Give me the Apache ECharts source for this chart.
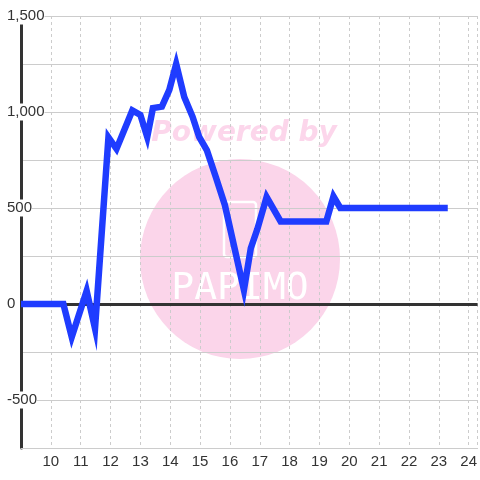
<!DOCTYPE html>
<html><head><meta charset="utf-8">
<script src="https://cdn.jsdelivr.net/npm/echarts@6/dist/echarts.min.js"></script>
<style>html,body{margin:0;padding:0;background:#fff}#c{width:480px;height:480px}</style>
</head><body><div id="c"></div>
<script>
// data
const xValues = [9.0, 10.42, 10.7, 11.2, 11.48, 11.93, 12.2, 12.73, 13.0, 13.23, 13.42, 13.72, 13.97, 14.2, 14.47, 14.75, 14.97, 15.23, 15.53, 15.83, 16.47, 16.7, 16.92, 17.23, 17.7, 19.23, 19.47, 19.7, 23.3];
const yValues = [0, 0, -172, 68, -128, 868, 808, 1008, 985, 870, 1020, 1028, 1115, 1250, 1078, 975, 870, 800, 660, 516, 73, 290, 390, 557, 430, 430, 560, 500, 500];
const yLabelValues = [-500, 0, 500, 1000, 1500];
const xMin = 9, xMax = 24.3, yMin = -750, yMax = 1500;

const seriesData = xValues.map((x, i) => [x, yValues[i]]);
const chart = echarts.init(document.getElementById('c'));
const FONT = 'Liberation Sans, Arial, sans-serif';
chart.setOption({
  animation: false,
  backgroundColor: '#fff',
  grid: { left: 21, right: 0, top: 16, bottom: 32, containLabel: false },
  graphic: [
    { type: 'circle', z: -5, silent: true, shape: { cx: 240, cy: 259, r: 100 }, style: { fill: '#fbd5ea' } },
    { type: 'text', z: -5, silent: true, x: 244, y: 134, style: { text: 'Powered by', fill: '#fcd6eb', font: 'italic bold 28px "DejaVu Sans"', align: 'center', verticalAlign: 'middle' } },
    { type: 'rect', z: -4, silent: true, shape: { x: 224, y: 202, width: 32, height: 55, r: 3 }, style: { fill: 'none', stroke: '#ffffff', lineWidth: 2.5 } },
    { type: 'text', z: -4, silent: true, x: 240, y: 289, style: { text: 'PAPIMO', fill: '#ffffff', font: '38px "DejaVu Sans Mono"', align: 'center', verticalAlign: 'middle' } }
  ],
  xAxis: {
    type: 'value', min: xMin, max: xMax, interval: 1,
    axisLine: { onZero: false, show: true, lineStyle: { color: '#cccccc', width: 1 } },
    axisTick: { show: false },
    axisLabel: { showMinLabel: false, showMaxLabel: false, color: '#333', fontSize: 15, fontFamily: FONT, margin: 6 },
    splitLine: { show: true, lineStyle: { color: '#cccccc', type: [3, 3], width: 1 } }
  },
  yAxis: {
    type: 'value', min: yMin, max: yMax, interval: 250,
    axisLine: { show: true, lineStyle: { color: '#333333', width: 3 } },
    axisTick: { show: false },
    axisLabel: {
      color: '#333', fontSize: 15, fontFamily: FONT, align: 'left', margin: 14,
      backgroundColor: '#ffffff', lineHeight: 17,
      formatter: v => yLabelValues.includes(v) ? v.toLocaleString('en-US') : ''
    },
    splitLine: { show: true, lineStyle: { color: '#cccccc', width: 1 } }
  },
  series: [{
    type: 'line', data: seriesData, showSymbol: false, symbol: 'none',
    lineStyle: { color: '#1f3cff', width: 6.5, join: 'miter' },
    z: 3,
    markLine: {
      silent: true, symbol: 'none', label: { show: false }, z: 1,
      lineStyle: { color: '#333333', width: 3, type: 'solid' },
      data: [{ yAxis: 0 }]
    }
  }]
});
</script></body></html>
